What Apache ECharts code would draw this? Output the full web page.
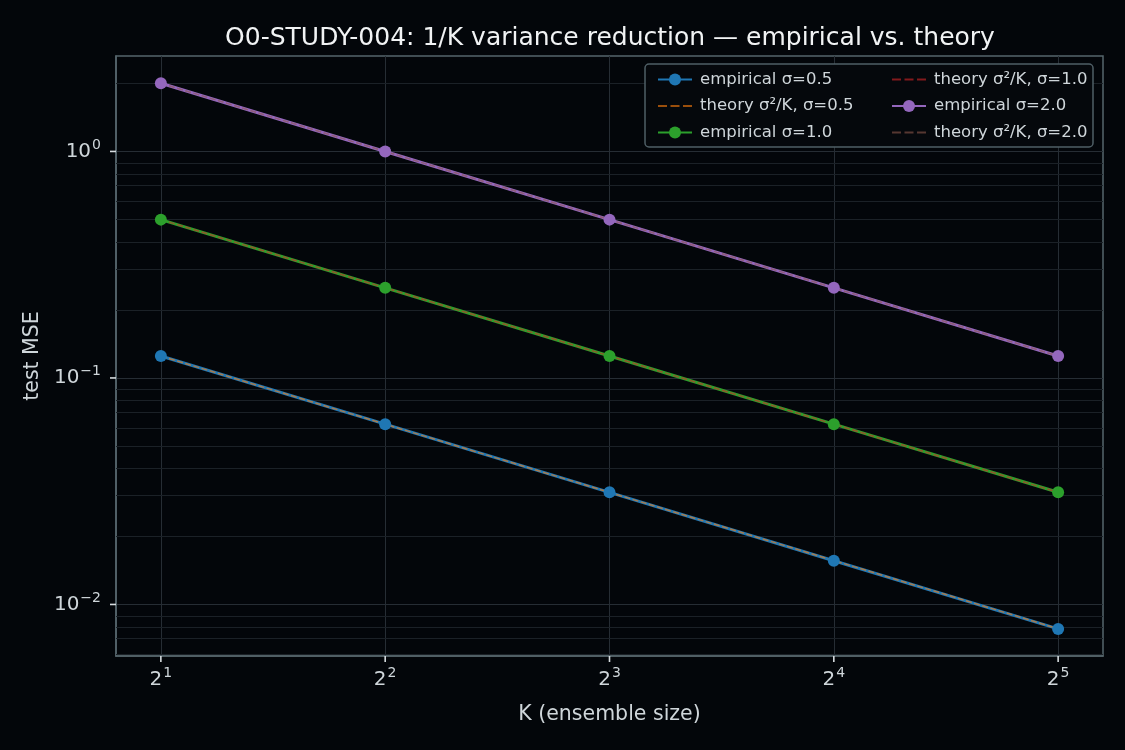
<!DOCTYPE html>
<html>
<head>
<meta charset="utf-8">
<title>O0-STUDY-004</title>
<script src="https://cdn.jsdelivr.net/npm/echarts@6/dist/echarts.min.js"></script>
<style>
	html, body { margin: 0; padding: 0; background: #03060a; }
	#chart { width: 1125px; height: 750px; }
</style>
</head>
<body>
<div id="chart"></div>
<script>
var textColor = '#cfd6da';
var gridColor = '#262d34';
var minorColor = '#1b2127';
var frameColor = '#56666c';

// ensemble sizes K
var ensembleK = [2, 4, 8, 16, 32];
// test MSE
var empirical05 = [0.125, 0.0625, 0.03125, 0.0156, 0.0078];
var theory05 = [0.125, 0.0625, 0.03125, 0.015625, 0.0078125];
var empirical10 = [0.5, 0.25, 0.125, 0.0625, 0.0313];
var theory10 = [0.5, 0.25, 0.125, 0.0625, 0.03125];
var empirical20 = [2.0, 1.0, 0.5, 0.25, 0.125];
var theory20 = [2.0, 1.0, 0.5, 0.25, 0.125];
// tick positions (exponents)
var xTickExp = [1, 2, 3, 4, 5];
var yTickExp = [-2, -1, 0];

var fontFamily = 'DejaVu Sans';
var xMin = 0.8, xMax = 5.2;
var yMin = -2.2276, yMax = 0.4214;

// axes are drawn in log space: x = log2(K), y = log10(MSE)
function toPoints(vals) {
	var pts = [];
	for (var i = 0; i < ensembleK.length; i++) {
		pts.push([Math.log2(ensembleK[i]), Math.log10(vals[i])]);
	}
	return pts;
}

// minor grid lines at 2..9 x 10^n
var minorLines = [];
for (var n = -3; n <= 0; n++) {
	for (var k = 2; k <= 9; k++) {
		var v = n + Math.log10(k);
		if (v > yMin && v < yMax) minorLines.push({ yAxis: v });
	}
}

function supLabel(base, exp) {
	return '{b|' + base + '}{s|' + exp + '}';
}
var labelRich = {
	b: { fontSize: 20, color: textColor, fontFamily: fontFamily },
	s: { fontSize: 14, color: textColor, fontFamily: fontFamily, padding: [0, 0, 13, 1] }
};

// dashed legend icon for the theory lines
var dashIcon = 'path://M0,0h9v2h-9z M12.5,0h9v2h-9z M25,0h9v2h-9z';

function empirical(name, color, vals) {
	return {
		name: name,
		type: 'line',
		data: toPoints(vals),
		symbol: 'circle',
		symbolSize: 12,
		lineStyle: { color: color, width: 3 },
		itemStyle: { color: color },
		z: 3
	};
}
function theory(name, color, vals) {
	return {
		name: name,
		type: 'line',
		data: toPoints(vals),
		symbol: 'none',
		lineStyle: { color: color, width: 1.5, type: [6, 2.5], opacity: 0.6 },
		itemStyle: { color: color, opacity: 0.6 },
		z: 3
	};
}

var legendText = { color: textColor, fontSize: 16.5, fontFamily: fontFamily, padding: [0, 0, 0, 3] };
var tickStyle = { stroke: '#d6dcdf', lineWidth: 1.6 };

var legendBox = {
	type: 'rect',
	shape: { x: 645, y: 64, width: 448, height: 83, r: 4 },
	style: { fill: '#05080c', stroke: '#4f5f66', lineWidth: 1.5 },
	z: 5
};

var option = {
	backgroundColor: '#03060a',
	animation: false,
	textStyle: { fontFamily: fontFamily },
	title: {
		text: 'O0-STUDY-004: 1/K variance reduction — empirical vs. theory',
		left: 605,
		top: 21,
		textAlign: 'center',
		textStyle: { color: '#f1f3f4', fontSize: 25, fontWeight: 'normal', fontFamily: fontFamily }
	},
	grid: {
		left: 116,
		top: 56,
		right: 22,
		bottom: 94,
		show: true,
		borderColor: frameColor,
		borderWidth: 1.5,
		backgroundColor: 'transparent'
	},
	graphic: [legendBox],
	legend: [{
		data: [
			{ name: 'empirical σ=0.5' },
			{ name: 'theory σ²/K, σ=0.5', icon: dashIcon },
			{ name: 'empirical σ=1.0' }
		],
		orient: 'vertical',
		left: 652,
		top: 66,
		itemWidth: 34,
		itemHeight: 15,
		itemGap: 9.5,
		textStyle: legendText,
		z: 6
	}, {
		data: [
			{ name: 'theory σ²/K, σ=1.0', icon: dashIcon },
			{ name: 'empirical σ=2.0' },
			{ name: 'theory σ²/K, σ=2.0', icon: dashIcon }
		],
		orient: 'vertical',
		left: 886,
		top: 66,
		itemWidth: 34,
		itemHeight: 15,
		itemGap: 9.5,
		textStyle: legendText,
		z: 6
	}],
	xAxis: {
		type: 'value',
		position: 'bottom',
		min: xMin,
		max: xMax,
		name: 'K (ensemble size)',
		nameLocation: 'middle',
		nameGap: 48,
		nameTextStyle: { color: textColor, fontSize: 20.5, fontFamily: fontFamily },
		axisLine: { show: true, onZero: false, lineStyle: { color: frameColor, width: 1.5 } },
		axisTick: { show: false, customValues: xTickExp },
		axisLabel: {
			customValues: xTickExp,
			margin: 10,
			formatter: function(v) { return supLabel('2', Math.round(v)); },
			rich: labelRich
		},
		splitLine: { show: true, lineStyle: { color: gridColor, width: 1 } }
	},
	yAxis: {
		type: 'value',
		position: 'left',
		min: yMin,
		max: yMax,
		name: 'test MSE',
		nameLocation: 'middle',
		nameGap: 73,
		nameTextStyle: { color: textColor, fontSize: 20.5, fontFamily: fontFamily },
		axisLine: { show: true, onZero: false, lineStyle: { color: frameColor, width: 1.5 } },
		axisTick: { show: false, customValues: yTickExp },
		axisLabel: {
			customValues: yTickExp,
			margin: 15,
			formatter: function(v) {
				var e = Math.round(v);
				return supLabel('10', e < 0 ? '\u2212' + (-e) : e);
			},
			rich: labelRich
		},
		splitLine: { show: true, lineStyle: { color: gridColor, width: 1 } }
	},
	series: [{
		name: 'minor grid',
		type: 'line',
		data: [],
		silent: true,
		z: 1,
		markLine: {
			silent: true,
			symbol: ['none', 'none'],
			label: { show: false },
			lineStyle: { color: minorColor, width: 1, type: 'solid' },
			data: minorLines,
			z: 1
		}
	},
		empirical('empirical σ=0.5', '#1f77b4', empirical05),
		theory('theory σ²/K, σ=0.5', '#ff7f0e', theory05),
		empirical('empirical σ=1.0', '#2ca02c', empirical10),
		theory('theory σ²/K, σ=1.0', '#d62728', theory10),
		empirical('empirical σ=2.0', '#9467bd', empirical20),
		theory('theory σ²/K, σ=2.0', '#8c564b', theory20)
	]
};

var chart = echarts.init(document.getElementById('chart'));
chart.setOption(option);

// outward tick marks, placed through the axes' own scales
var tickMarks = [legendBox];
for (var i = 0; i < xTickExp.length; i++) {
	var p = chart.convertToPixel({ gridIndex: 0 }, [xTickExp[i], yMin]);
	tickMarks.push({ type: 'line', shape: { x1: p[0], y1: p[1], x2: p[0], y2: p[1] + 6 }, style: tickStyle, z: 4 });
}
for (var j = 0; j < yTickExp.length; j++) {
	var q = chart.convertToPixel({ gridIndex: 0 }, [xMin, yTickExp[j]]);
	tickMarks.push({ type: 'line', shape: { x1: q[0] - 6, y1: q[1], x2: q[0], y2: q[1] }, style: tickStyle, z: 4 });
}
chart.setOption({ graphic: tickMarks });
</script>
</body>
</html>
